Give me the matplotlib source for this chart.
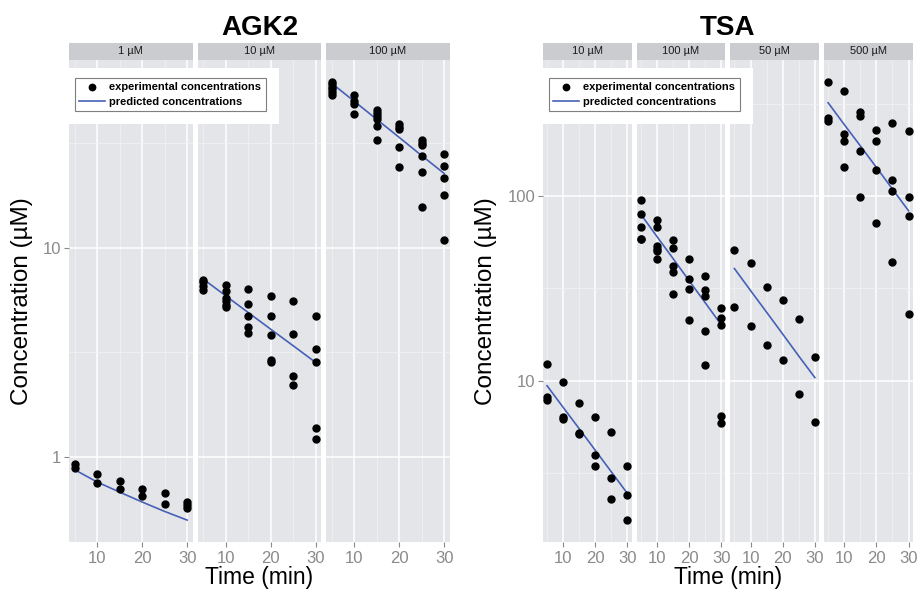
import numpy as np
import matplotlib.pyplot as plt
from matplotlib.lines import Line2D
from matplotlib.patches import Rectangle
from matplotlib.ticker import NullFormatter

plt.rcParams['font.family'] = ['Liberation Sans', 'DejaVu Sans']

# sampling times (min) for the predicted curves
times = [5, 10, 15, 20, 25, 30]

# ---- AGK2 ----
agk2_1_t = [5, 5, 10, 10, 15, 15, 20, 20, 25, 25, 30, 30, 30]
agk2_1_c = [0.93, 0.89, 0.83, 0.75, 0.77, 0.70, 0.70, 0.65, 0.67, 0.60, 0.61, 0.59, 0.57]
agk2_1_pred = [0.87, 0.76, 0.68, 0.61, 0.55, 0.50]

agk2_10_t = [5, 5, 5, 5, 10, 10, 10, 10, 10, 10, 15, 15, 15, 15, 15,
             20, 20, 20, 20, 20, 25, 25, 25, 25, 30, 30, 30, 30, 30]
agk2_10_c = [7.03, 6.82, 6.58, 6.30, 6.65, 6.18, 5.74, 5.53, 5.33, 5.18,
             6.34, 5.38, 4.69, 4.18, 3.91, 5.89, 4.69, 3.84, 2.91, 2.85,
             5.53, 3.86, 2.44, 2.21, 4.73, 3.28, 2.83, 1.37, 1.22]
agk2_10_pred = [7.08, 5.89, 4.90, 4.08, 3.40, 2.83]

agk2_100_t = [5, 5, 5, 5, 5, 5, 10, 10, 10, 10, 15, 15, 15, 15, 15, 15,
              20, 20, 20, 20, 20, 25, 25, 25, 25, 25, 25, 30, 30, 30, 30, 30]
agk2_100_c = [61.8, 60.3, 58.7, 57.0, 55.4, 53.8, 53.4, 50.1, 48.3, 43.3,
              45.4, 44.1, 42.5, 41.3, 38.0, 32.6, 38.8, 37.8, 36.7, 30.3, 24.3,
              32.6, 31.7, 30.8, 27.5, 22.9, 15.7, 28.1, 24.5, 21.4, 17.9, 10.9]
agk2_100_pred = [60.9, 50.0, 41.0, 33.6, 27.5, 22.6]

# ---- TSA ----
tsa_10_t = [5, 5, 5, 10, 10, 10, 15, 15, 15, 20, 20, 20, 25, 25, 25, 30, 30, 30]
tsa_10_c = [12.3, 8.15, 7.82, 9.9, 6.35, 6.19, 7.56, 5.24, 5.13,
            6.40, 3.96, 3.45, 5.28, 2.96, 2.28, 3.45, 2.40, 1.76]
tsa_10_pred = [9.40, 7.18, 5.50, 4.20, 3.21, 2.45]

tsa_100_t = [5, 5, 5, 5, 5, 10, 10, 10, 10, 10, 10, 15, 15, 15, 15, 15,
             20, 20, 20, 20, 25, 25, 25, 25, 25, 30, 30, 30, 30, 30]
tsa_100_c = [95.1, 79.8, 68.4, 58.9, 58.4, 74.1, 67.7, 53.7, 52.0, 50.5, 45.8,
             57.7, 52.6, 41.8, 39.0, 29.6, 45.5, 35.7, 31.3, 21.2,
             36.9, 31.0, 28.7, 18.5, 12.2, 24.8, 21.9, 20.1, 6.47, 5.89]
tsa_100_pred = [79.8, 60.5, 46.0, 34.9, 26.5, 20.1]

tsa_50_t = [5, 5, 10, 10, 15, 15, 20, 20, 25, 25, 30, 30]
tsa_50_c = [51.0, 25.0, 43.6, 19.9, 32.3, 15.7, 27.3, 13.0, 21.5, 8.5, 13.5, 6.0]
tsa_50_pred = [40.5, 30.8, 23.5, 17.9, 13.6, 10.4]

tsa_500_t = [5, 5, 5, 10, 10, 10, 10, 15, 15, 15, 15, 20, 20, 20, 20,
             25, 25, 25, 25, 30, 30, 30, 30]
tsa_500_c = [415, 264, 256, 369, 217, 198, 143, 285, 273, 176, 98.4,
             229, 198, 138, 71.3, 249, 122, 107, 44.0, 225, 98.4, 78.2, 22.9]
tsa_500_pred = [320, 244, 187, 143, 109, 83.2]

agk2_facets = [("1 µM", agk2_1_t, agk2_1_c, agk2_1_pred),
               ("10 µM", agk2_10_t, agk2_10_c, agk2_10_pred),
               ("100 µM", agk2_100_t, agk2_100_c, agk2_100_pred)]
tsa_facets = [("10 µM", tsa_10_t, tsa_10_c, tsa_10_pred),
              ("100 µM", tsa_100_t, tsa_100_c, tsa_100_pred),
              ("50 µM", tsa_50_t, tsa_50_c, tsa_50_pred),
              ("500 µM", tsa_500_t, tsa_500_c, tsa_500_pred)]

W, H = 919, 590
PANEL_BG = '#E4E5E8'
STRIP_BG = '#CBCCCF'
GREY_TXT = '#8A8A8A'
LINE_COL = '#4660B8'
STRIP_TOP, PANEL_TOP, PANEL_BOT = 43, 60, 542

fig = plt.figure(figsize=(W / 100, H / 100), dpi=100)


def box(x0, y0, x1, y1):
    # pixel box (top-left origin) -> figure fraction rect
    return [x0 / W, 1 - y1 / H, (x1 - x0) / W, (y1 - y0) / H]


def draw_group(title, facets, left, step, width, ylab_x):
    vals = np.concatenate([np.r_[f[2], f[3]] for f in facets])
    lo, hi = np.log10(vals.min()), np.log10(vals.max())
    pad = 0.05 * (hi - lo)
    ylim = (10 ** (lo - pad), 10 ** (hi + pad))
    xpad = 0.05 * (max(times) - min(times))
    xlim = (min(times) - xpad, max(times) + xpad)
    majors = [v for v in [0.1, 1, 10, 100, 1000] if ylim[0] <= v <= ylim[1]]
    minors = [10 ** (k + 0.5) for k in range(-2, 4)]
    minors = [v for v in minors if ylim[0] <= v <= ylim[1]]

    for i, (lab, t, c, pred) in enumerate(facets):
        x0 = left + i * step
        ax = fig.add_axes(box(x0, PANEL_TOP, x0 + width, PANEL_BOT))
        ax.set_facecolor(PANEL_BG)
        ax.set_yscale('log')
        ax.set_xlim(xlim)
        ax.set_ylim(ylim)
        ax.set_yticks(majors, labels=[f"{v:g}" for v in majors])
        ax.set_yticks(minors, minor=True)
        ax.yaxis.set_minor_formatter(NullFormatter())
        ax.set_xticks([10, 20, 30])
        ax.set_xticks([5, 15, 25], minor=True)
        ax.grid(which='major', color='white', lw=1.1)
        ax.grid(which='minor', color='#F2F2F4', lw=0.55)
        ax.set_axisbelow(True)
        for s in ax.spines.values():
            s.set_visible(False)
        ax.tick_params(which='major', length=3.5, width=0.8, color=GREY_TXT,
                       labelcolor=GREY_TXT, labelsize=12)
        ax.tick_params(axis='x', which='major', pad=3)
        ax.tick_params(axis='y', which='major', pad=2)
        ax.tick_params(which='minor', length=0)
        if i > 0:
            ax.tick_params(axis='y', left=False, labelleft=False)

        ax.plot(times, pred, color=LINE_COL, lw=1.2, zorder=3)
        ax.plot(t, c, 'o', color='black', ms=5, ls='none', zorder=4)

        sax = fig.add_axes(box(x0, STRIP_TOP, x0 + width, PANEL_TOP))
        sax.set_facecolor(STRIP_BG)
        sax.set_xticks([])
        sax.set_yticks([])
        for s in sax.spines.values():
            s.set_visible(False)
        sax.text(0.5, 0.5, lab, ha='center', va='center', fontsize=8,
                 color='#1A1A1A', transform=sax.transAxes)

    right = left + (len(facets) - 1) * step + width
    cx = (left + right) / 2
    fig.text(cx / W, 1 - 28 / H, title, ha='center', va='center',
             fontsize=20, fontweight='bold')
    fig.text(cx / W, 1 / H, "Time (min)", ha='center', va='bottom',
             fontsize=16.5)
    fig.text(ylab_x / W, 1 - (PANEL_TOP + PANEL_BOT) / 2 / H,
             "Concentration (µM)", ha='center', va='center',
             rotation=90, fontsize=17.5)

    # legend with white surround
    fig.patches.append(Rectangle(((left) / W, 1 - 124 / H), 210 / W, 56 / H,
                                 transform=fig.transFigure, facecolor='white',
                                 edgecolor='none', zorder=2))
    handles = [Line2D([], [], marker='o', color='black', ls='none', ms=4.6),
               Line2D([], [], color=LINE_COL, lw=1.2)]
    leg = fig.legend(handles, ["experimental concentrations", "predicted concentrations"],
                     loc='upper left', bbox_to_anchor=((left + 6) / W, 1 - 78 / H),
                     borderaxespad=0, frameon=True, fancybox=False,
                     edgecolor='#7F7F7F', facecolor='white', framealpha=1,
                     prop={'weight': 'bold', 'size': 8}, handlelength=2.3,
                     handletextpad=0.4, borderpad=0.4, labelspacing=0.4)
    leg.get_frame().set_linewidth(0.8)
    leg.set_zorder(5)


draw_group("AGK2", agk2_facets, left=69, step=128.5, width=123.75, ylab_x=22)
draw_group("TSA", tsa_facets, left=543, step=93.7, width=88.5, ylab_x=486)

fig.savefig('out.png', dpi=100)
